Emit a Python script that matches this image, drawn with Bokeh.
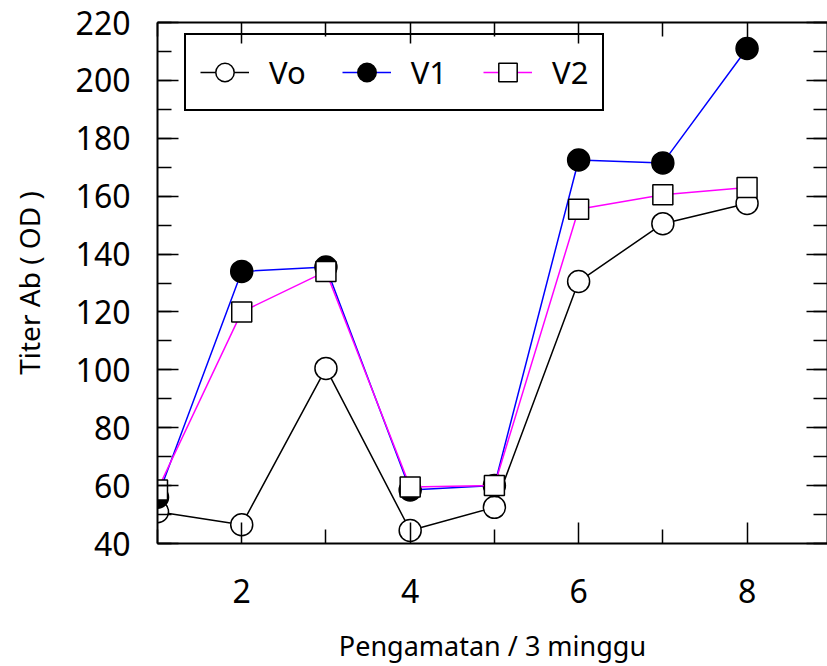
from bokeh.plotting import figure
from bokeh.models import (FixedTicker, LinearAxis, Legend, LegendItem, Range1d,
                          CustomJSTickFormatter, ColumnDataSource)
from bokeh.embed import file_html
from bokeh.resources import INLINE

# ---- data ----
weeks = [1, 2, 3, 4, 5, 6, 7, 8]
vo = [51, 46.5, 100.5, 44.5, 52.5, 130.5, 150.5, 157.5]
v1 = [56, 134, 135.5, 58.5, 60, 172.5, 171.5, 211]
v2 = [58.5, 120, 134, 59.5, 60, 155.5, 160.5, 163]
series_names = ["Vo", "V1", "V2"]
x_major = [2, 4, 6, 8]
x_minor = [1, 3, 5, 7, 9]
y_major = [40, 60, 80, 100, 120, 140, 160, 180, 200, 220]
y_minor = list(range(40, 221, 10))

FONT = "Noto Sans"

p = figure(width=827, height=666, output_backend="svg", toolbar_location=None,
           x_range=Range1d(1, 8.955), y_range=Range1d(40, 220),
           x_axis_location=None, y_axis_location=None,
           min_border_left=157, min_border_right=0, min_border_top=22,
           min_border_bottom=123)
p.grid.visible = False
p.outline_line_color = None
p.background_fill_color = "white"
p.border_fill_color = "white"

xt = FixedTicker(ticks=x_major, minor_ticks=x_minor)
yt = FixedTicker(ticks=y_major, minor_ticks=y_minor)
blank = CustomJSTickFormatter(code="return ''")


def style(ax):
    ax.axis_line_width = 2
    ax.axis_line_color = "black"
    ax.major_tick_in = 21
    ax.major_tick_out = 0
    ax.minor_tick_in = 14
    ax.minor_tick_out = 0
    ax.major_tick_line_width = 1.5
    ax.minor_tick_line_width = 1.5
    ax.major_tick_line_color = "black"
    ax.minor_tick_line_color = "black"
    ax.major_label_text_font = FONT
    ax.major_label_text_font_size = "32px"
    ax.major_label_text_color = "black"
    ax.axis_label_text_font = FONT
    ax.axis_label_text_font_size = "27px"
    ax.axis_label_text_font_style = "normal"
    ax.axis_label_text_color = "black"


bottom = LinearAxis(ticker=xt, axis_label="Pengamatan / 3 minggu")
style(bottom)
bottom.major_label_standoff = 35
bottom.axis_label_standoff = 21
p.add_layout(bottom, "below")

left = LinearAxis(ticker=yt, axis_label="Titer Ab ( OD )")
style(left)
left.axis_label_text_font_size = "28px"
left.major_label_standoff = 27
left.axis_label_standoff = 25
p.add_layout(left, "left")

top = LinearAxis(ticker=xt, formatter=blank)
style(top)
top.major_label_standoff = 0
p.add_layout(top, "above")

right = LinearAxis(ticker=yt, formatter=blank)
style(right)
right.major_label_standoff = 0
p.add_layout(right, "right")

src = ColumnDataSource(dict(x=weeks, vo=vo, v1=v1, v2=v2))

l0 = p.line("x", "vo", source=src, line_color="black", line_width=1.5)
m0 = p.scatter("x", "vo", source=src, marker="circle", size=22,
               fill_color="white", line_color="black", line_width=1.5)
l1 = p.line("x", "v1", source=src, line_color="blue", line_width=1.5)
m1 = p.scatter("x", "v1", source=src, marker="circle", size=22,
               fill_color="black", line_color="black", line_width=1.5)
l2 = p.line("x", "v2", source=src, line_color="magenta", line_width=1.5)
m2 = p.scatter("x", "v2", source=src, marker="square", size=20,
               fill_color="white", line_color="black", line_width=1.5)

legend = Legend(items=[
    LegendItem(label=series_names[0], renderers=[l0, m0]),
    LegendItem(label=series_names[1], renderers=[l1, m1]),
    LegendItem(label=series_names[2], renderers=[l2, m2]),
], orientation="horizontal", location=(27, 432))
legend.label_text_font = FONT
legend.label_text_font_size = "31px"
legend.label_text_color = "black"
legend.glyph_width = 49
legend.glyph_height = 46
legend.label_standoff = 20
legend.spacing = 36
legend.padding = 14
legend.border_line_color = "black"
legend.border_line_alpha = 1
legend.border_line_width = 2
legend.background_fill_alpha = 0
p.add_layout(legend, "center")

open("out.html", "w").write(file_html(p, INLINE))
